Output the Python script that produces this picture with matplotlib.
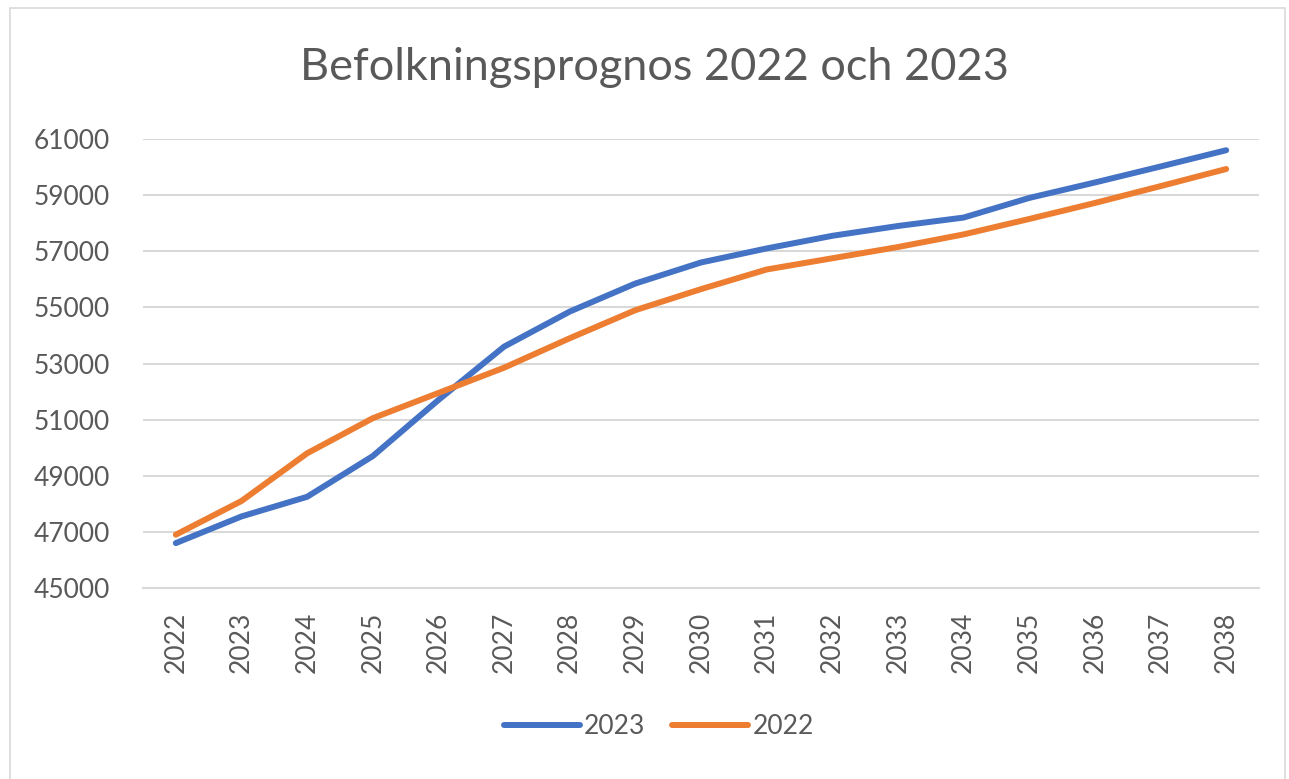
import matplotlib
matplotlib.use("Agg")
import matplotlib.pyplot as plt
from matplotlib.patches import Rectangle

# data
years = ["2022", "2023", "2024", "2025", "2026", "2027", "2028", "2029", "2030",
         "2031", "2032", "2033", "2034", "2035", "2036", "2037", "2038"]
prog_2023 = [46600, 47550, 48250, 49700, 51700, 53600, 54850, 55850, 56600,
             57100, 57550, 57900, 58200, 58900, 59450, 60020, 60600]
prog_2022 = [46900, 48100, 49800, 51050, 51950, 52850, 53900, 54900, 55650,
             56350, 56750, 57150, 57600, 58150, 58720, 59320, 59930]
yticks = list(range(45000, 61001, 2000))

plt.rcParams['font.family'] = ['Lato', 'DejaVu Sans']
grey = "#595959"

fig = plt.figure(figsize=(12.89, 7.79), dpi=100)
fig.patches.append(Rectangle((10 / 1289, -0.01), 1275 / 1289, 1 - 8 / 779 + 0.01,
                             transform=fig.transFigure, fill=False,
                             edgecolor="#d9d9d9", linewidth=1.2))

ax = fig.add_axes([143 / 1289, 1 - 588 / 779, (1259 - 143) / 1289, (588 - 139) / 779])
x = list(range(len(years)))
ax.plot(x, prog_2023, color="#4472C4", linewidth=4.3, solid_capstyle="round",
        solid_joinstyle="round", label="2023")
ax.plot(x, prog_2022, color="#ED7D31", linewidth=4.3, solid_capstyle="round",
        solid_joinstyle="round", label="2022")

ax.set_xlim(-0.5, len(years) - 0.5)
ax.set_ylim(45000, 61000)
ax.set_yticks(yticks)
ax.set_yticklabels([str(v) for v in yticks])
ax.set_xticks(x)
ax.set_xticklabels(years, rotation=90)
ax.tick_params(length=0, labelsize=19, colors=grey)
ax.tick_params(axis="y", pad=24)
ax.tick_params(axis="x", pad=17)
ax.yaxis.grid(True, color="#d9d9d9", linewidth=1.5)
ax.set_axisbelow(True)
for s in ["top", "right", "left"]:
    ax.spines[s].set_visible(False)
ax.spines["bottom"].set_color("#d9d9d9")
ax.spines["bottom"].set_linewidth(1.5)

fig.text(0.508, 1 - 68 / 779, "Befolkningsprognos 2022 och 2023", ha="center",
         va="center", fontsize=32.5, color=grey)

fig.legend(loc="center", bbox_to_anchor=(0.511, 1 - 727 / 779), ncol=2, frameon=False,
           fontsize=19, labelcolor=grey, handlelength=2.9, handletextpad=0.15,
           columnspacing=1.0)

fig.savefig("out.png", dpi=100)
